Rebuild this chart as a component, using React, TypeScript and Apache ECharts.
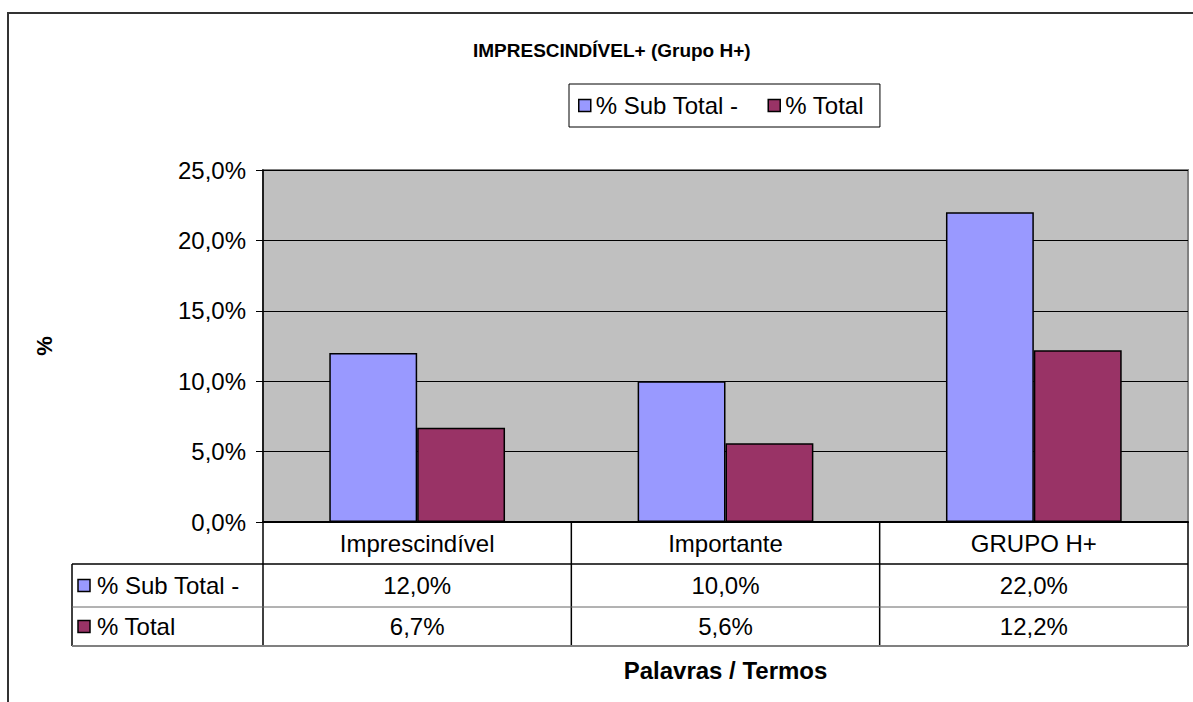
import React, { useEffect, useRef } from "react";
import * as echarts from "echarts";

const categories = ["Imprescindível", "Importante", "GRUPO H+"];
const seriesNames = ["% Sub Total -", "% Total"];
const subTotal = [12.0, 10.0, 22.0];
const total = [6.7, 5.6, 12.2];
const seriesColors = ["#9999ff", "#993366"];
const yTicks = { min: 0, max: 25, interval: 5 };

const FONT = "Arial, 'Liberation Sans', sans-serif";
const fmt = (v: number) => v.toFixed(1).replace(".", ",") + "%";

export default function App() {
  const ref = useRef<HTMLDivElement>(null);
  useEffect(() => {
    if (!ref.current) return;
    const chart = echarts.init(ref.current, undefined, { renderer: "svg" });
    const gridLeft = 263;
    const gridRight = 1188;
    const gridTop = 170;
    const gridBottom = 522;
    const n = categories.length;
    const colW = (gridRight - gridLeft) / n;
    const rowY = [gridBottom, 564, 607, 646];
    const tableLeft = 72;
    const values = [subTotal, total];

    const graphics: any[] = [];
    // outer frame
    graphics.push({
      type: "rect",
      shape: { x: 8, y: 13, width: 1210, height: 720 },
      style: { fill: "none", stroke: "#333", lineWidth: 2 },
      silent: true,
    });
    // table lines
    for (let i = 0; i <= n; i++) {
      const x = gridLeft + i * colW;
      graphics.push({
        type: "line",
        shape: { x1: x, y1: rowY[0], x2: x, y2: rowY[3] },
        style: { stroke: "#000", lineWidth: 1.5 },
      });
    }
    graphics.push({
      type: "line",
      shape: { x1: tableLeft, y1: rowY[1], x2: tableLeft, y2: rowY[3] },
      style: { stroke: "#000", lineWidth: 1.5 },
    });
    graphics.push({
      type: "line",
      shape: { x1: tableLeft, y1: rowY[1], x2: gridRight, y2: rowY[1] },
      style: { stroke: "#000", lineWidth: 1.5 },
    });
    graphics.push({
      type: "line",
      shape: { x1: tableLeft, y1: rowY[2], x2: gridRight, y2: rowY[2] },
      style: { stroke: "#666", lineWidth: 1 },
    });
    graphics.push({
      type: "line",
      shape: { x1: tableLeft, y1: rowY[3], x2: gridRight, y2: rowY[3] },
      style: { stroke: "#808080", lineWidth: 2 },
    });
    // row labels and values
    for (let r = 0; r < 2; r++) {
      const cy = (rowY[r + 1] + rowY[r + 2]) / 2;
      graphics.push({
        type: "rect",
        shape: { x: 78, y: cy - 6, width: 12, height: 12 },
        style: { fill: seriesColors[r], stroke: "#000", lineWidth: 1.5 },
      });
      graphics.push({
        type: "text",
        x: 97,
        y: cy,
        style: {
          text: seriesNames[r],
          font: `24px ${FONT}`,
          fill: "#000",
          textAlign: "left",
          textVerticalAlign: "middle",
        },
      });
      for (let c = 0; c < n; c++) {
        graphics.push({
          type: "text",
          x: gridLeft + (c + 0.5) * colW,
          y: cy,
          style: {
            text: fmt(values[r][c]),
            font: `24px ${FONT}`,
            fill: "#000",
            textAlign: "center",
            textVerticalAlign: "middle",
          },
        });
      }
    }

    chart.setOption({
      animation: false,
      backgroundColor: "#fff",
      title: {
        text: "IMPRESCINDÍVEL+ (Grupo H+)",
        left: 468,
        top: 36,
        textStyle: { fontFamily: FONT, fontSize: 19, fontWeight: "bold", color: "#000" },
      },
      legend: {
        data: seriesNames,
        left: 569,
        top: 84,
        orient: "horizontal",
        icon: "rect",
        itemWidth: 12,
        itemHeight: 12,
        itemGap: 29,
        padding: [8, 16, 8, 9],
        borderColor: "#000",
        borderWidth: 1,
        backgroundColor: "#fff",
        textStyle: { fontFamily: FONT, fontSize: 24, color: "#000", lineHeight: 27 },
        itemStyle: { borderColor: "#000", borderWidth: 1.5 },
      },
      grid: {
        left: gridLeft,
        top: gridTop,
        width: gridRight - gridLeft,
        height: gridBottom - gridTop,
        show: true,
        backgroundColor: "#c0c0c0",
        borderColor: "#808080",
        borderWidth: 2,
        containLabel: false,
      },
      xAxis: {
        type: "category",
        data: categories,
        axisLine: { lineStyle: { color: "#000", width: 2 } },
        axisTick: { show: false },
        axisLabel: {
          fontFamily: FONT,
          fontSize: 24,
          color: "#000",
          margin: 21,
          verticalAlign: "middle",
        },
        name: "Palavras / Termos",
        nameLocation: "middle",
        nameGap: 136,
        nameTextStyle: { fontFamily: FONT, fontSize: 24, fontWeight: "bold", color: "#000" },
      },
      yAxis: {
        type: "value",
        min: yTicks.min,
        max: yTicks.max,
        interval: yTicks.interval,
        axisLine: { show: true, lineStyle: { color: "#000", width: 1.5 } },
        axisTick: { show: true, length: 7, lineStyle: { color: "#000" } },
        axisLabel: {
          fontFamily: FONT,
          fontSize: 24,
          color: "#000",
          margin: 17,
          formatter: (v: number) => fmt(v),
        },
        splitLine: { show: true, lineStyle: { color: "#000", width: 1 } },
        name: "%",
        nameLocation: "middle",
        nameRotate: 90,
        nameGap: 208,
        nameTextStyle: { fontFamily: FONT, fontSize: 22, fontWeight: "bold", color: "#000" },
      },
      series: [
        {
          name: seriesNames[0],
          type: "bar",
          data: subTotal,
          barGap: "0%",
          barCategoryGap: "43%",
          itemStyle: { color: seriesColors[0], borderColor: "#000", borderWidth: 1.5 },
        },
        {
          name: seriesNames[1],
          type: "bar",
          data: total,
          barGap: "0%",
          barCategoryGap: "43%",
          itemStyle: { color: seriesColors[1], borderColor: "#000", borderWidth: 1.5 },
        },
      ],
      graphic: graphics,
    });
    return () => chart.dispose();
  }, []);
  return (
    <div
      ref={ref}
      style={{ position: "fixed", left: 0, top: 0, width: 1193, height: 702 }}
    />
  );
}
